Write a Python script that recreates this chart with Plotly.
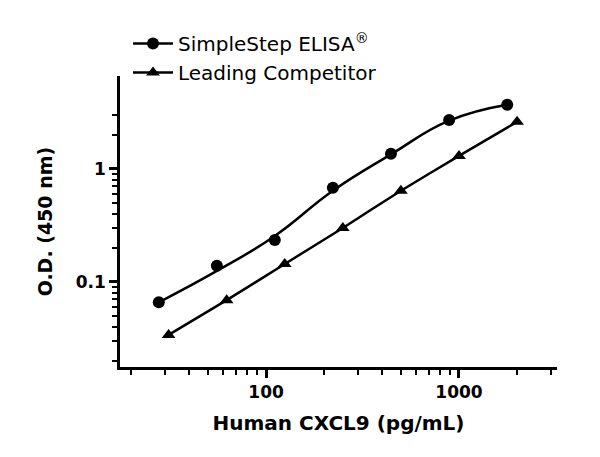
import plotly.graph_objects as go

# concentrations (pg/mL) and O.D. readings
simplestep_conc = [27.8, 55.6, 111, 222, 444, 889, 1778]
simplestep_od = [0.066, 0.139, 0.235, 0.68, 1.36, 2.7, 3.68]
# fitted curve of the SimpleStep points at the same concentrations
simplestep_fit = [0.066, 0.125, 0.255, 0.64, 1.34, 2.66, 3.68]

competitor_conc = [31.25, 62.5, 125, 250, 500, 1000, 2000]
competitor_od = [0.034, 0.069, 0.144, 0.30, 0.64, 1.30, 2.6]

x_major = [100, 1000]
x_minor = [20, 30, 40, 50, 60, 70, 80, 90,
           200, 300, 400, 500, 600, 700, 800, 900, 2000, 3000]
y_major = [0.1, 1]
y_minor = [0.02, 0.03, 0.04, 0.05, 0.06, 0.07, 0.08, 0.09,
           0.2, 0.3, 0.4, 0.5, 0.6, 0.7, 0.8, 0.9, 2, 3]

FONT = "DejaVu Sans"
black = "black"

fig = go.Figure()
# SimpleStep: fitted line + measured points, legend entry from an empty trace
fig.add_trace(go.Scatter(
    x=simplestep_conc, y=simplestep_fit, mode="lines", showlegend=False,
    line=dict(color=black, width=2.5, shape="spline", smoothing=1.3),
    hoverinfo="skip",
))
fig.add_trace(go.Scatter(
    x=simplestep_conc, y=simplestep_od, mode="markers", showlegend=False,
    marker=dict(symbol="circle", size=12, color=black),
))
fig.add_trace(go.Scatter(
    x=[None], y=[None], mode="lines+markers", name="SimpleStep ELISA<sup>®</sup>",
    line=dict(color=black, width=2.5),
    marker=dict(symbol="circle", size=12, color=black),
))
fig.add_trace(go.Scatter(
    x=competitor_conc, y=competitor_od,
    mode="lines+markers", name="Leading Competitor",
    line=dict(color=black, width=2.5, shape="spline", smoothing=0.5),
    marker=dict(symbol="triangle-up", size=12, color=black),
))

axis_common = dict(
    type="log", showgrid=False, zeroline=False,
    showline=True, linecolor=black, linewidth=2.5,
    ticks="outside", ticklen=8, tickwidth=2.5, tickcolor=black,
    tickfont=dict(family=FONT, size=17, color=black, weight="bold"),
    tickangle=0,
)

fig.update_layout(
    width=600, height=457,
    paper_bgcolor="white", plot_bgcolor="white",
    margin=dict(l=112, r=51, t=68, b=98, autoexpand=False),
    font=dict(family=FONT, color=black),
    xaxis=dict(
        **axis_common,
        range=[1.243, 3.508],
        tickvals=x_major, ticktext=["100", "1000"],
        minor=dict(tickvals=x_minor, ticks="outside", ticklen=5,
                   tickwidth=2, tickcolor=black, showgrid=False),
        title=dict(text="Human CXCL9 (pg/mL)", standoff=15,
                   font=dict(family=FONT, size=20, color=black, weight="bold")),
    ),
    yaxis=dict(
        **axis_common,
        range=[-1.752, 0.82],
        tickvals=y_major, ticktext=["0.1", "1"],
        minor=dict(tickvals=y_minor, ticks="outside", ticklen=5,
                   tickwidth=2, tickcolor=black, showgrid=False),
    ),
    legend=dict(
        x=0.2, y=1 - 16 / 457, xref="container", yref="container",
        xanchor="left", yanchor="top",
        font=dict(family=FONT, size=20, color=black),
        bgcolor="rgba(0,0,0,0)", tracegroupgap=0, itemwidth=40,
    ),
    showlegend=True,
)

# y-axis title as a rotated annotation (axis title misplaces without autoexpand)
fig.add_annotation(
    text="<b>O.D. (450 nm)</b>", xref="paper", yref="paper",
    x=-0.172, y=0.5, xanchor="center", yanchor="middle",
    textangle=-90, showarrow=False,
    font=dict(family=FONT, size=19, color=black),
)

fig.write_html("out.html")
